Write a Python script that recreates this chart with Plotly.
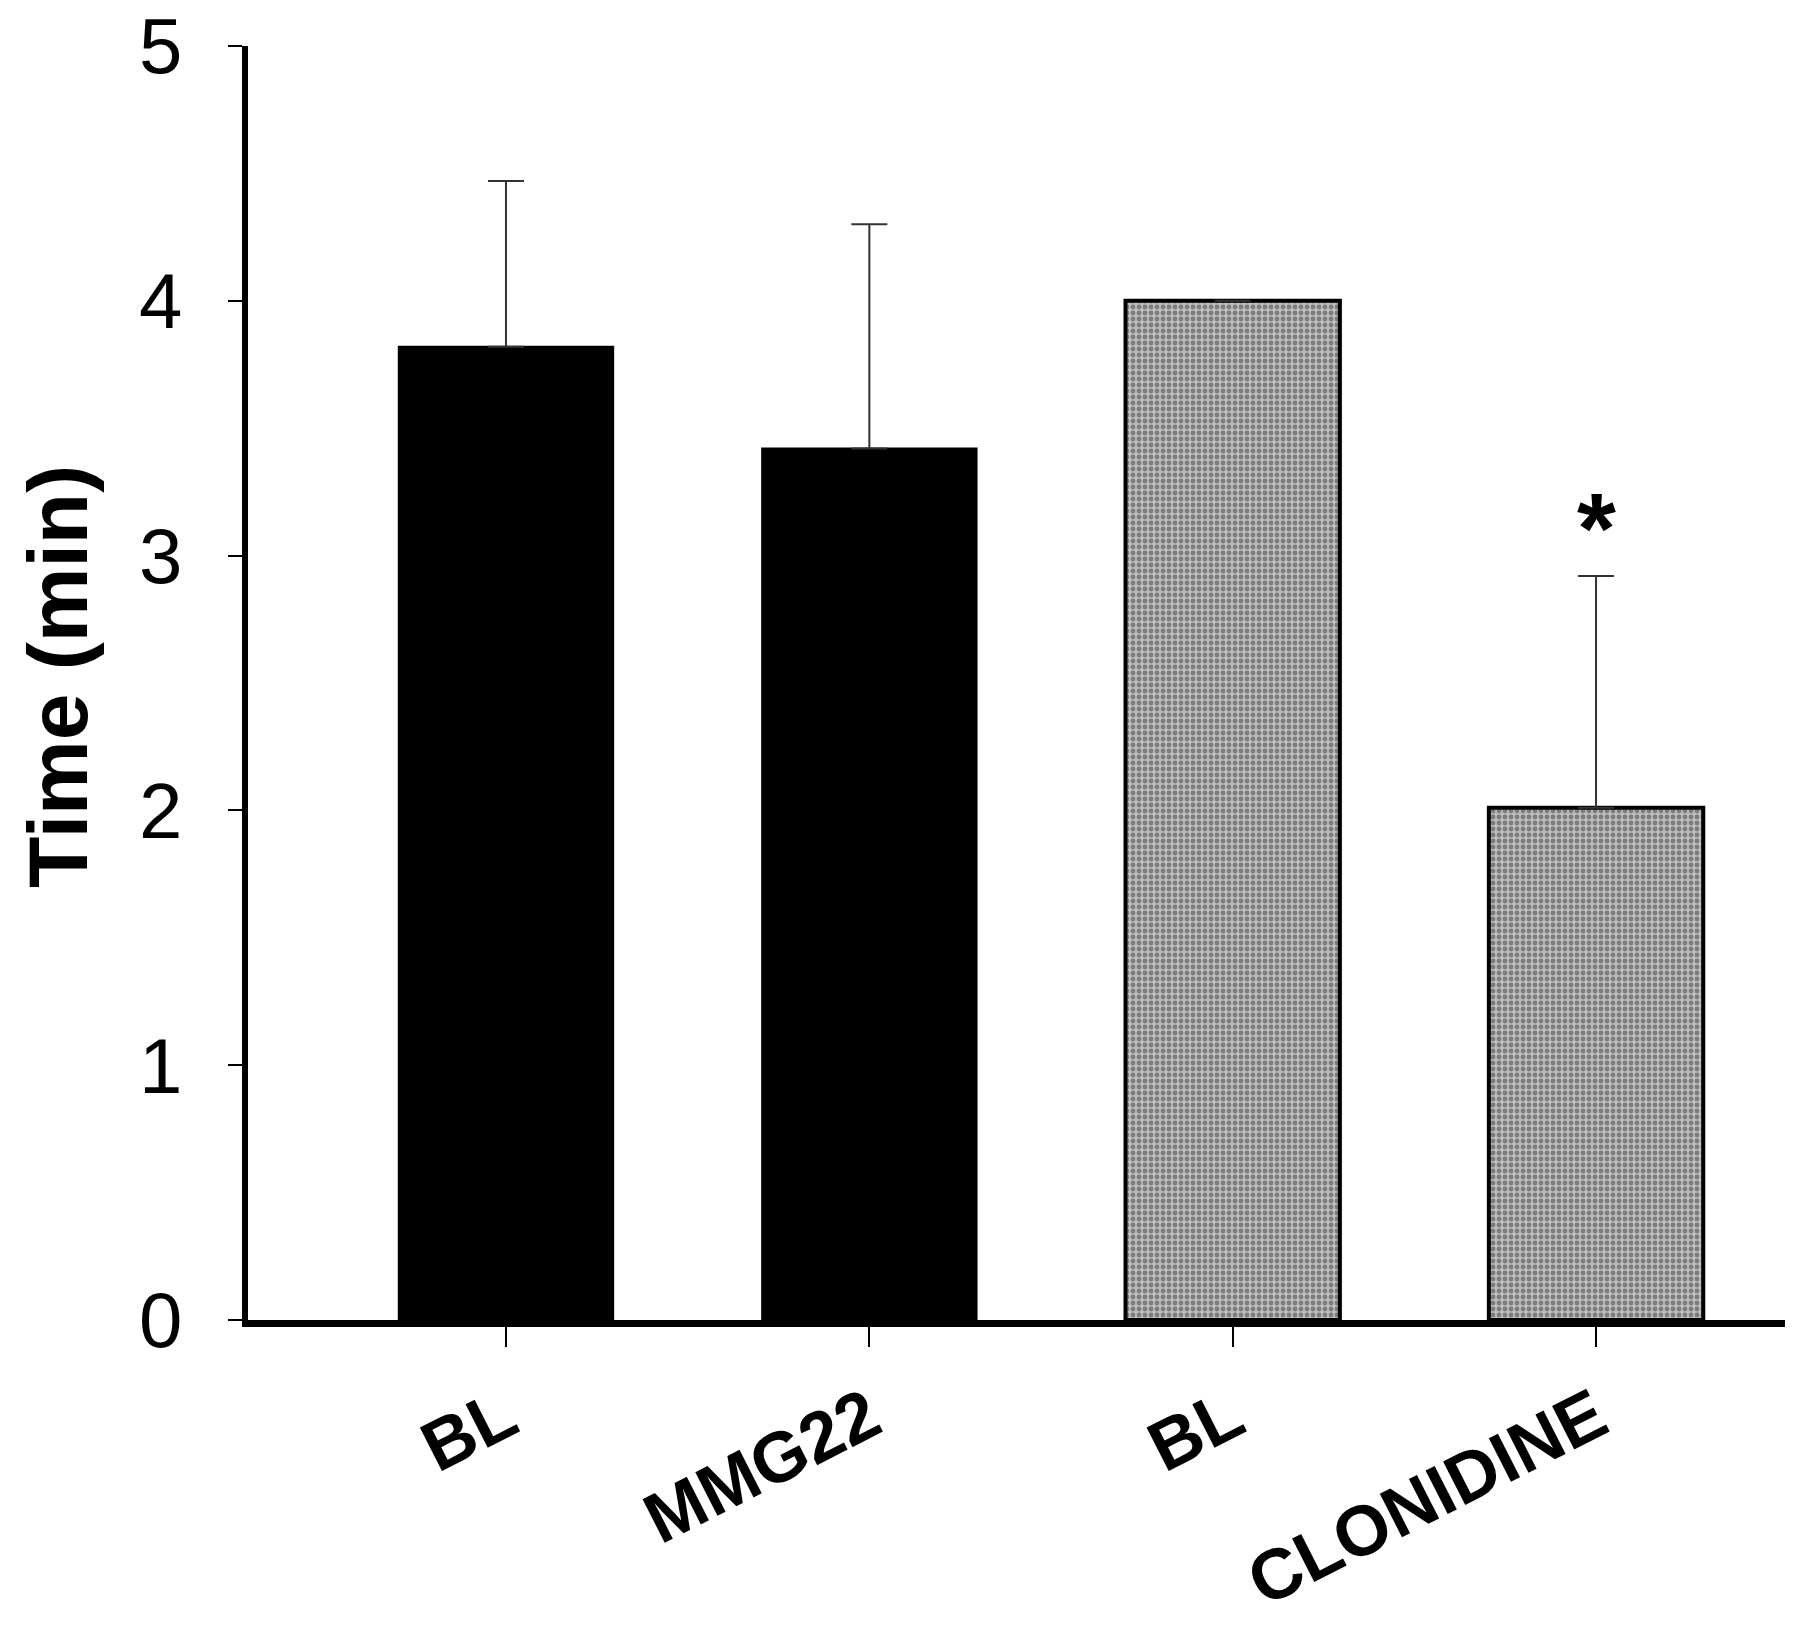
import plotly.graph_objects as go

# ── Data ──────────────────────────────────────────────────────────────────────
labels = ["BL", "MMG22", "BL", "CLONIDINE"]
means = [3.82, 3.42, 4.00, 2.01]
sem_up = [0.65, 0.88, 0.0, 0.91]
groups = ["MMG22", "MMG22", "CLONIDINE", "CLONIDINE"]
sig = ["", "", "", "*"]
y_title = "Time (min)"

xpos = list(range(len(labels)))

fig = go.Figure()

# ── MMG22 group: solid black bars ─────────────────────────────────────────────
idx = [i for i, g in enumerate(groups) if g == "MMG22"]
fig.add_trace(go.Bar(
    x=[xpos[i] for i in idx],
    y=[means[i] for i in idx],
    width=0.59,
    marker=dict(color="black", line=dict(color="black", width=2)),
    error_y=dict(type="data", symmetric=False,
                 array=[sem_up[i] for i in idx],
                 arrayminus=[0] * len(idx),
                 color="#333", thickness=2, width=18),
    showlegend=False,
))

# ── Clonidine group: speckled grey bars ───────────────────────────────────────
idx = [i for i, g in enumerate(groups) if g == "CLONIDINE"]
fig.add_trace(go.Bar(
    x=[xpos[i] for i in idx],
    y=[means[i] for i in idx],
    width=0.59,
    marker=dict(color="#9a9a9a",
                line=dict(color="black", width=4),
                pattern=dict(shape=".", size=6, solidity=0.5,
                             fgcolor="#3c3c3c", bgcolor="#bdbdbd")),
    error_y=dict(type="data", symmetric=False,
                 array=[sem_up[i] for i in idx],
                 arrayminus=[0] * len(idx),
                 color="#333", thickness=2, width=18),
    showlegend=False,
))

# significance marks
for i, s in enumerate(sig):
    if s:
        fig.add_annotation(
            x=xpos[i], y=means[i] + sem_up[i] + 0.19,
            text=f"<b>{s}</b>", showarrow=False,
            yanchor="middle",
            font=dict(family="Liberation Sans, Arial", size=100, color="black"),
        )

# y-axis title as a rotated annotation (axis title gets clamped to the margin)
fig.add_annotation(
    xref="paper", yref="paper", x=-0.124, y=0.505,
    text=f"<b>{y_title}</b>", textangle=-90, showarrow=False,
    xanchor="center", yanchor="middle", borderpad=0,
    font=dict(family="Liberation Sans, Arial", size=84, color="black"),
)

# page body adds an 8px offset, so the figure is 16px smaller than the window
fig.update_layout(
    width=1784, height=1621,
    paper_bgcolor="white", plot_bgcolor="white",
    margin=dict(l=240, r=7, t=38, b=309, autoexpand=False),
    barmode="overlay",
    font=dict(family="Liberation Sans, Arial", color="black"),
    xaxis=dict(
        range=[-0.71, 3.52],
        tickvals=xpos, ticktext=labels,
        tickangle=-27,
        tickfont=dict(family="Liberation Sans, Arial", size=71, color="black",
                      weight="bold"),
        ticks="outside", ticklen=20, tickwidth=2, tickcolor="black",
        ticklabelstandoff=2, ticklabeloverflow="allow",
        showline=True, linecolor="black", linewidth=7,
        showgrid=False, zeroline=False, automargin=False,
    ),
    yaxis=dict(
        range=[0, 5], dtick=1,
        tickfont=dict(family="Liberation Sans, Arial", size=78, color="black"),
        ticks="outside", ticklen=14, tickwidth=2, tickcolor="black",
        ticklabelstandoff=30, ticklabeloverflow="allow",
        showline=True, linecolor="black", linewidth=6,
        showgrid=False, zeroline=False, automargin=False,
    ),
)

fig.write_html("out.html")
